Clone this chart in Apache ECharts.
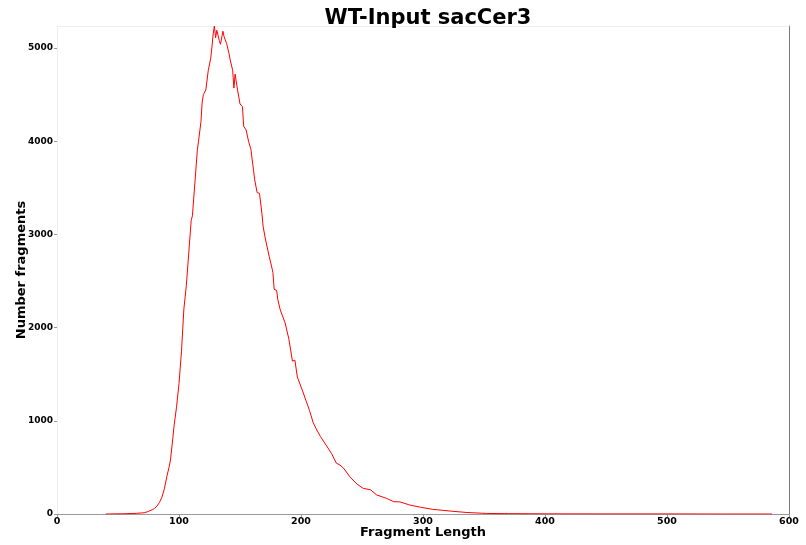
<!DOCTYPE html>
<html>
<head>
<meta charset="utf-8">
<script src="https://cdn.jsdelivr.net/npm/echarts@6/dist/echarts.min.js"></script>
<style>html,body{margin:0;padding:0;background:#fff}#c{width:806px;height:545px}</style>
</head>
<body>
<div id="c"></div>
<script>
const chartTitle = "WT-Input sacCer3";
const xName = "Fragment Length";
const yName = "Number fragments";
const xTicks = [0, 100, 200, 300, 400, 500, 600];
const yTicks = [0, 1000, 2000, 3000, 4000, 5000];
const fragLength = [40,45,50,55,60,65,70,72,75,78,80,82,84,86,88,90,92,93,95,96,98,100,102,104,106,108,110,111,113,115,116,118,119,120,122,124,126,127,128,129,130,131,133,134,136,137,139,141,142,144,145,146,148,150,152,153,155,157,159,160,161,162,164,166,168,169,171,174,176,177,178,180,181,183,187,190,193,195,197,201,204,207,210,213,216,221,225,229,232,235,240,246,251,257,262,270,276,281,289,298,308,322,336,352,370,400,450,500,550,586];
const numFragments = [0,1,2,3,5,7,12,15,28,45,60,85,125,180,270,400,510,580,820,950,1150,1400,1740,2200,2450,2800,3150,3200,3550,3900,4000,4210,4420,4500,4550,4760,4890,5010,5150,5236,5110,5190,5080,5040,5180,5120,5050,4940,4870,4760,4570,4720,4550,4400,4370,4160,4120,4000,3910,3800,3700,3590,3450,3440,3220,3080,2940,2760,2650,2590,2410,2400,2300,2190,2050,1880,1640,1650,1470,1330,1220,1110,980,900,830,730,650,545,525,490,400,320,275,260,205,168,132,130,97,72,50,32,16,6,4,2,1,1,0,0];

const font = "DejaVu Sans";
const chart = echarts.init(document.getElementById('c'), null, {renderer: 'canvas'});
chart.setOption({
  animation: false,
  backgroundColor: '#fff',
  title: {
    text: chartTitle, left: 423, textAlign: 'center', top: 3,
    textStyle: {fontFamily: font, fontWeight: 'bold', fontSize: 21, color: '#000'}
  },
  grid: {left: 57, right: 17, top: 26, bottom: 31, containLabel: false, outerBoundsMode: 'none'},
  xAxis: [{
    type: 'value', min: 0, max: 600, interval: 100,
    name: xName, nameLocation: 'middle', nameGap: 12, nameMoveOverlap: false,
    nameTextStyle: {fontFamily: font, fontWeight: 'bold', fontSize: 13, color: '#000', verticalAlign: 'top'},
    axisLine: {show: true, onZero: false, lineStyle: {color: '#999', width: 1}},
    axisTick: {show: true, length: 3, lineStyle: {color: '#999'}},
    axisLabel: {fontFamily: font, fontWeight: 'bold', fontSize: 9.5, color: '#000', margin: 3,
      customValues: xTicks, formatter: v => String(v)},
    splitLine: {show: false}
  }, {
    type: 'value', min: 0, max: 600, position: 'top',
    axisLine: {show: true, onZero: false, lineStyle: {color: '#eee', width: 1}},
    axisTick: {show: false}, axisLabel: {show: false}, splitLine: {show: false}
  }],
  yAxis: [{
    type: 'value', min: 0, max: 5236, position: 'left',
    name: yName, nameLocation: 'middle', nameGap: 29, nameMoveOverlap: false,
    nameTextStyle: {fontFamily: font, fontWeight: 'bold', fontSize: 13, color: '#000'},
    axisLine: {show: true, onZero: false, lineStyle: {color: '#eee', width: 1}},
    axisTick: {show: true, length: 3, lineStyle: {color: '#999'}, customValues: yTicks},
    axisLabel: {fontFamily: font, fontWeight: 'bold', fontSize: 9, color: '#000', margin: 4,
      customValues: yTicks, formatter: v => String(v)},
    splitLine: {show: false}
  }, {
    type: 'value', min: 0, max: 5236, position: 'right',
    axisLine: {show: true, onZero: false, lineStyle: {color: '#777', width: 1}},
    axisTick: {show: false}, axisLabel: {show: false}, splitLine: {show: false}
  }],
  series: [{
    type: 'line',
    data: fragLength.map((x, i) => [x, numFragments[i]]),
    showSymbol: false, symbol: 'none',
    lineStyle: {color: '#ff0000', width: 1},
    z: 5
  }]
});
</script>
</body>
</html>
